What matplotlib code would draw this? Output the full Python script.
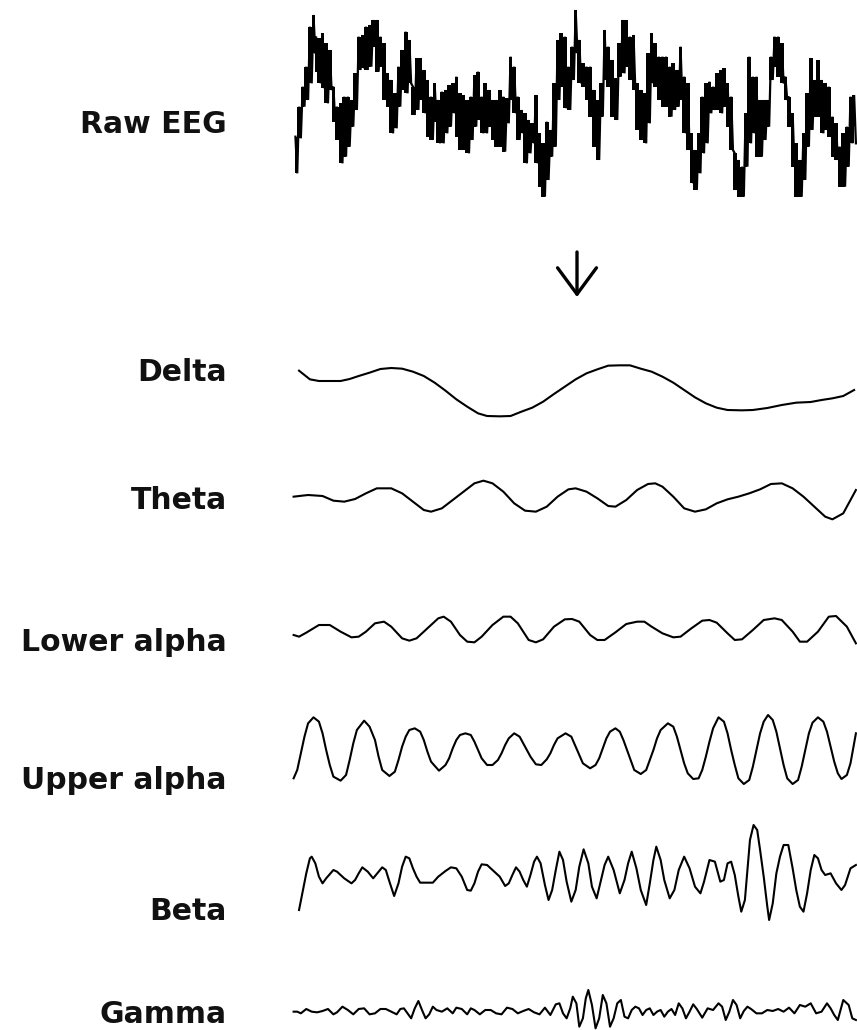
import numpy as np
import matplotlib
matplotlib.use("Agg")
import matplotlib.pyplot as plt

# ---------------- data (time in samples, amplitude in display units, larger = lower) -------------
labels = ["Raw EEG", "Delta", "Theta", "Lower alpha", "Upper alpha", "Beta", "Gamma"]

# Raw EEG: dense noisy trace, given as upper / lower excursions per time step
t_raw = [15, 25, 35, 45, 55, 65, 72] + list(range(80, 1561, 10))
raw_upper = [410, 320, 260, 200, 80, 45, 110,
             115, 100, 130, 150, 260, 320, 310, 290, 290, 300, 220, 110, 105, 80, 75, 60, 60, 110, 130, 220,
             240, 280, 200, 150, 95, 120, 260, 175, 175, 210, 240, 290, 250, 300, 275, 270, 255, 250, 230, 280,
             285, 300, 290, 225, 215, 290, 250, 270, 300, 300, 270, 290, 295, 170, 200, 290, 330, 340, 360, 370,
             285, 400, 430, 365, 390, 250, 120, 100, 110, 200, 140, 30, 120, 190, 200, 200, 270, 300, 250, 90,
             140, 180, 235, 130, 60, 60, 110, 105, 250, 270, 280, 160, 100, 130, 170, 170, 170, 200, 190, 210,
             140, 230, 250, 400, 450, 400, 290, 250, 245, 260, 220, 210, 205, 250, 290, 460, 480, 500, 340, 170,
             230, 230, 300, 300, 300, 170, 110, 110, 130, 230, 290, 340, 430, 480, 400, 280, 175, 240, 180, 240,
             250, 260, 350, 370, 440, 400, 380, 290, 285]
raw_lower = [520, 415, 320, 300, 250, 160, 215,
             250, 265, 310, 270, 365, 420, 490, 470, 440, 380, 330, 210, 205, 210, 200, 140, 215, 200, 300, 320,
             400, 385, 320, 270, 280, 250, 345, 330, 300, 340, 410, 420, 365, 430, 430, 400, 380, 340, 410, 450,
             450, 460, 420, 380, 360, 400, 400, 380, 420, 440, 440, 455, 370, 300, 340, 420, 400, 490, 460, 430,
             490, 560, 590, 540, 470, 440, 300, 260, 325, 330, 240, 160, 250, 260, 300, 350, 440, 480, 350, 240,
             260, 350, 360, 230, 220, 200, 240, 270, 390, 420, 430, 370, 250, 260, 300, 320, 320, 350, 330, 320,
             300, 400, 450, 550, 570, 520, 460, 430, 340, 330, 330, 340, 320, 380, 450, 570, 590, 590, 500, 430,
             400, 470, 470, 420, 380, 240, 200, 230, 250, 300, 380, 500, 590, 590, 540, 440, 390, 350, 350, 400,
             390, 410, 470, 480, 560, 560, 500, 430, 430]

t_delta = [25, 40, 55, 80, 110, 140, 165, 190, 220, 250, 280, 310, 340, 370, 400, 430, 460, 490, 520, 545, 580, 610,
           640, 670, 700, 730, 760, 790, 820, 850, 880, 910, 940, 970, 1000, 1030, 1060, 1090, 1120, 1150, 1180, 1210,
           1250, 1280, 1320, 1360, 1400, 1440, 1470, 1500, 1530, 1560]
delta = [92, 105, 118, 123, 123, 123, 117, 108, 98, 87, 84, 86, 95, 108, 128, 152, 178, 200, 220, 228, 229, 228,
         215, 203, 185, 162, 140, 118, 100, 88, 77, 76, 76, 86, 95, 110, 128, 150, 172, 190, 203, 210,
         211, 210, 204, 195, 188, 186, 180, 175, 168, 150]

t_theta = [10, 50, 90, 120, 150, 180, 210, 240, 280, 310, 340, 370, 390, 420, 450, 480, 510, 535, 560, 590, 620, 650,
           680, 710, 740, 770, 790, 820, 850, 880, 900, 930, 960, 990, 1010, 1030, 1060, 1090, 1120, 1150, 1180, 1210,
           1240, 1270, 1300, 1330, 1360, 1390, 1420, 1450, 1480, 1500, 1530, 1565]
theta = [110, 105, 108, 122, 125, 117, 100, 85, 85, 100, 125, 150, 155, 145, 120, 95, 70, 62, 70, 95, 130, 152,
         155, 140, 110, 88, 85, 95, 115, 138, 140, 120, 90, 72, 70, 80, 110, 145, 155, 148, 130, 118,
         110, 100, 88, 72, 70, 85, 110, 140, 170, 178, 160, 90]

t_lalpha = [10, 25, 45, 80, 110, 140, 170, 190, 210, 235, 260, 280, 310, 330, 350, 380, 410, 425, 445, 470, 490, 510,
            530, 560, 590, 610, 630, 660, 680, 700, 730, 760, 780, 800, 830, 850, 870, 900, 930, 960, 980, 1000,
            1030, 1060, 1080, 1110, 1140, 1160, 1180, 1210, 1230, 1250, 1280, 1310, 1340, 1360, 1390, 1410, 1430,
            1460, 1490, 1510, 1540, 1565]
lalpha = [105, 110, 98, 75, 75, 95, 112, 110, 95, 70, 65, 80, 115, 122, 115, 85, 55, 50, 65, 105, 125, 127,
          110, 75, 50, 50, 70, 120, 127, 118, 80, 58, 57, 65, 105, 120, 120, 97, 72, 65, 65, 80,
          100, 112, 110, 85, 62, 60, 68, 100, 120, 118, 90, 60, 55, 60, 95, 125, 125,
          95, 50, 48, 80, 130]

t_ualpha = [10, 20, 30, 40, 50, 65, 80, 90, 100, 110, 120, 140, 155, 165, 175, 185, 205, 220, 235, 245, 255, 275,
            290, 300, 310, 320, 330, 345, 360, 370, 380, 390, 412, 430, 440, 450, 460, 470, 485, 500, 510, 520,
            530, 545, 560, 575, 585, 595, 605, 620, 635, 645, 655, 665, 680, 695, 710, 720, 730, 740, 762, 778,
            790, 800, 810, 830, 845, 855, 865, 875, 885, 900, 912, 922, 932, 942, 952, 970, 985, 995, 1005, 1015,
            1025, 1045, 1060, 1070, 1080, 1090, 1100, 1115, 1130, 1140, 1150, 1160, 1170, 1185, 1200, 1210, 1220,
            1230, 1240, 1255, 1270, 1280, 1290, 1300, 1310, 1322, 1335, 1345, 1355, 1365, 1375, 1390, 1405, 1415,
            1425, 1435, 1445, 1460, 1475, 1485, 1495, 1505, 1515, 1525, 1540, 1550, 1560, 1565]
ualpha = [235, 210, 160, 110, 70, 52, 65, 100, 150, 195, 230, 242, 225, 180, 130, 90, 62, 80, 120, 170, 210, 228,
          215, 180, 140, 110, 90, 85, 95, 120, 155, 185, 212, 195, 175, 145, 120, 105, 100, 105, 125, 150,
          175, 195, 195, 180, 160, 135, 115, 100, 110, 130, 150, 170, 193, 195, 178, 160, 135, 115, 100, 110,
          140, 165, 190, 205, 195, 175, 145, 115, 95, 85, 95, 120, 150, 180, 210, 222, 210, 180, 150, 115,
          90, 70, 80, 110, 150, 190, 220, 237, 235, 210, 170, 125, 85, 52, 65, 100, 150,
          195, 235, 252, 240, 200, 150, 100, 65, 45, 60, 95, 145, 195, 235, 252, 240, 200,
          150, 100, 68, 52, 65, 95, 140, 185, 220, 237, 225, 190, 130, 100]

t_beta = [25, 35, 45, 55, 60, 70, 80, 90, 100, 120, 130, 150, 170, 180, 190, 200, 215, 230, 245, 255, 265, 275, 288,
          300, 310, 320, 330, 340, 350, 360, 380, 395, 410, 430, 445, 460, 475, 490, 500, 510, 520, 530, 545, 560,
          580, 595, 605, 615, 625, 635, 645, 655, 665, 675, 683, 693, 705, 715, 725, 735, 745, 755, 765, 778, 790,
          800, 812, 825, 835, 848, 860, 870, 880, 895, 912, 925, 935, 945, 958, 970, 985, 995, 1005, 1013, 1025,
          1035, 1050, 1063, 1075, 1090, 1105, 1120, 1135, 1145, 1160, 1175, 1190, 1200, 1210, 1220, 1230, 1240,
          1248, 1258, 1265, 1272, 1282, 1292, 1300, 1310, 1320, 1325, 1335, 1345, 1355, 1365, 1378, 1390, 1400,
          1410, 1420, 1430, 1440, 1450, 1460, 1470, 1480, 1495, 1510, 1525, 1535, 1550, 1565]
beta = [300, 245, 190, 145, 140, 160, 200, 220, 205, 180, 185, 205, 220, 210, 190, 172, 185, 205, 185, 172, 180, 215,
        258, 220, 170, 140, 145, 175, 200, 218, 218, 218, 200, 183, 172, 175, 200, 240, 242, 220, 185, 163, 165, 180,
        200, 228, 220, 195, 172, 185, 210, 230, 195, 155, 140, 160, 225, 270, 240, 180, 125, 150, 215, 275, 240,
        170, 118, 160, 230, 265, 210, 165, 140, 180, 250, 210, 160, 125, 175, 240, 285, 220, 150, 110, 150,
        210, 265, 240, 180, 140, 175, 230, 250, 215, 150, 155, 215, 210, 160, 155, 195, 260,
        305, 270, 180, 90, 45, 60, 120, 200, 290, 330, 280, 190, 140, 105, 105, 175, 240,
        290, 305, 250, 180, 135, 145, 180, 195, 190, 220, 240, 225, 175, 165]

t_gamma = [10, 20, 30, 45, 60, 75, 90, 105, 120, 130, 145, 160, 175, 190, 205, 220, 235, 250, 265, 280, 295, 305, 315,
           325, 335, 345, 355, 365, 375, 385, 395, 405, 420, 435, 450, 460, 475, 490, 500, 510, 525, 540, 555, 570,
           585, 600, 615, 630, 645, 660, 675, 690, 705, 720, 735, 745, 755, 765, 775, 782, 792, 800, 810, 818, 825,
           835, 845, 855, 865, 875, 885, 895, 905, 915, 925, 935, 945, 955, 965, 975, 985, 995, 1005, 1015, 1025,
           1035, 1045, 1055, 1065, 1075, 1085, 1095, 1105, 1115, 1125, 1140, 1155, 1170, 1185, 1195, 1205, 1215,
           1225, 1235, 1245, 1255, 1265, 1275, 1290, 1305, 1320, 1335, 1350, 1365, 1380, 1395, 1410, 1425, 1440,
           1455, 1470, 1485, 1495, 1505, 1515, 1530, 1545, 1555, 1565]
gamma = [80, 80, 85, 72, 80, 82, 78, 72, 88, 82, 65, 75, 88, 72, 70, 88, 85, 72, 72, 80, 88, 72, 70,
         85, 100, 70, 48, 75, 100, 88, 65, 75, 80, 70, 85, 68, 72, 88, 70, 75, 88, 75, 75, 85,
         88, 68, 72, 85, 78, 72, 82, 88, 68, 90, 58, 55, 85, 100, 70, 35, 55, 125, 100, 40, 15,
         60, 130, 100, 30, 55, 125, 100, 55, 45, 95, 100, 75, 65, 70, 90, 75, 70, 90, 80, 75,
         95, 80, 72, 90, 55, 70, 100, 80, 58, 72, 98, 70, 75, 55, 65, 105, 80,
         45, 60, 100, 78, 65, 72, 85, 85, 75, 78, 72, 80, 68, 85, 60, 65, 55,
         85, 80, 55, 70, 90, 105, 45, 60, 100, 105]

# ---------------- figure ----------------
W, H = 857, 1030
fig = plt.figure(figsize=(W / 100, H / 100), dpi=100)
fig.patch.set_facecolor("white")

X0 = 290          # left edge of the trace area (px)
T_SPAN = 1568     # time units spanning the trace area

# (top px, height px) of each trace band; amplitude units are 1/3 px
bands = [(0, 210), (340, 90), (460, 70), (600, 60), (700, 100), (810, 120), (985, 45)]
label_y = [122, 370, 498, 640, 778, 909, 1012]   # cap-centre of each label (px from top)

def band_axes(top, height):
    ax = fig.add_axes([X0 / W, 1 - (top + height) / H, 1 - X0 / W, height / H])
    ax.set_xlim(0, T_SPAN)
    ax.set_ylim(height * 3, 0)
    ax.axis("off")
    return ax

# Raw EEG: dense band between upper and lower excursions plus zig-zag stroke
ax = band_axes(*bands[0])
tr = np.array(t_raw, dtype=float)
up = np.array(raw_upper, dtype=float)
lo = np.array(raw_lower, dtype=float)
ax.fill_between(tr, up, lo, step="mid", color="black", lw=0)
zx = np.empty(2 * len(tr)); zy = np.empty(2 * len(tr))
zx[0::2] = tr; zx[1::2] = tr + 5
zy[0::2] = up; zy[1::2] = lo
ax.plot(zx, zy, color="black", lw=1.6, solid_joinstyle="miter")

series = [(t_delta, delta), (t_theta, theta), (t_lalpha, lalpha), (t_ualpha, ualpha), (t_beta, beta), (t_gamma, gamma)]
for (t, v), band in zip(series, bands[1:]):
    ax = band_axes(*band)
    ax.plot(t, v, color="black", lw=1.5, solid_joinstyle="round")

# labels
for txt, yc in zip(labels, label_y):
    fig.text(227 / W, 1 - (yc + 11) / H, txt, ha="right", va="baseline",
             fontsize=21.5, fontweight="bold", family="DejaVu Sans", color="#111111")

# arrow
ax_o = fig.add_axes([0, 0, 1, 1]); ax_o.axis("off")
ax_o.annotate("", xy=(577, H - 297), xycoords="figure pixels",
              xytext=(577, H - 252), textcoords="figure pixels",
              arrowprops=dict(arrowstyle="->,head_length=0.95,head_width=0.7", lw=2.4,
                              color="black", mutation_scale=20, shrinkA=0, shrinkB=0))

fig.savefig("out.png", dpi=100, facecolor="white")
